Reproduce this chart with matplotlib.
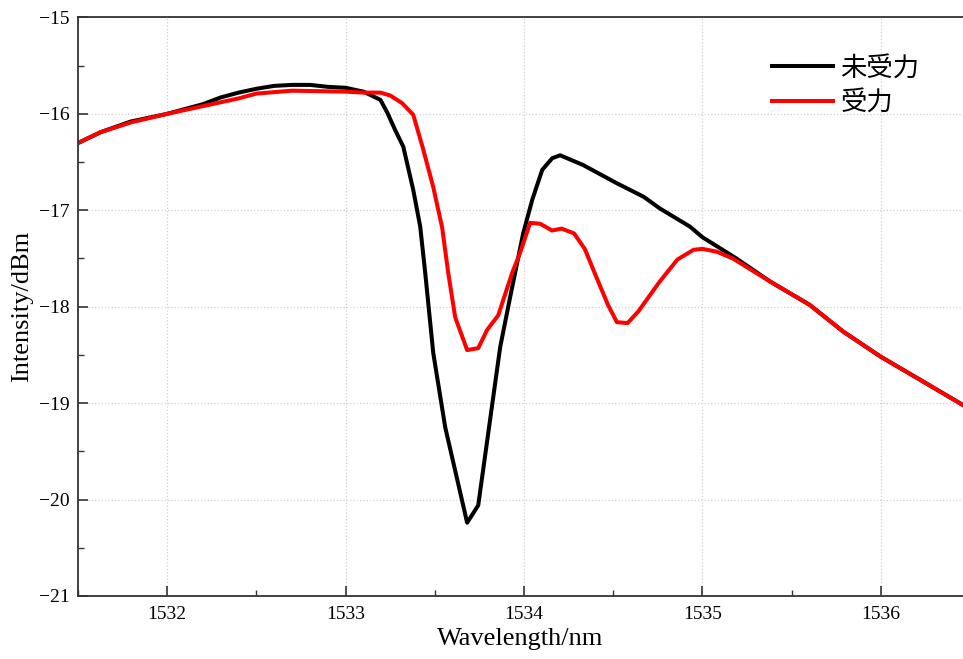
import numpy as np
import matplotlib
matplotlib.use("Agg")
import matplotlib.pyplot as plt
from matplotlib.ticker import MultipleLocator

# 未受力 (no load)
wl_free = [1531.503, 1531.627, 1531.795, 1532.00, 1532.20, 1532.30, 1532.40, 1532.50,
           1532.60, 1532.70, 1532.80, 1532.90, 1533.00, 1533.10, 1533.195, 1533.234,
           1533.278, 1533.323, 1533.379, 1533.418, 1533.446, 1533.491, 1533.558, 1533.681,
           1533.743, 1533.866, 1533.922, 1533.995, 1534.046, 1534.102, 1534.158, 1534.202,
           1534.33, 1534.52, 1534.67, 1534.76, 1534.93, 1535.00, 1535.19, 1535.38,
           1535.60, 1535.79, 1536.00, 1536.24, 1536.46]
p_free = [-16.30, -16.19, -16.08, -16.00, -15.90, -15.83, -15.78, -15.74,
          -15.71, -15.70, -15.70, -15.72, -15.73, -15.77, -15.855, -15.99,
          -16.17, -16.34, -16.79, -17.17, -17.65, -18.48, -19.25, -20.24,
          -20.06, -18.42, -17.90, -17.24, -16.89, -16.58, -16.46, -16.43,
          -16.53, -16.72, -16.86, -16.98, -17.17, -17.28, -17.50, -17.74,
          -17.98, -18.26, -18.52, -18.78, -19.02]

# 受力 (loaded)
wl_load = [1531.503, 1531.627, 1531.795, 1532.00, 1532.20, 1532.40, 1532.50, 1532.70,
           1533.00, 1533.10, 1533.195, 1533.25, 1533.317, 1533.379, 1533.435, 1533.491,
           1533.541, 1533.575, 1533.614, 1533.681, 1533.743, 1533.793, 1533.855, 1533.933,
           1533.978, 1534.034, 1534.09, 1534.157, 1534.21, 1534.28, 1534.34, 1534.40,
           1534.47, 1534.52, 1534.58, 1534.64, 1534.76, 1534.86, 1534.95, 1535.00,
           1535.08, 1535.17, 1535.38, 1535.60, 1535.79, 1536.00, 1536.24, 1536.46]
p_load = [-16.30, -16.19, -16.09, -16.00, -15.92, -15.84, -15.79, -15.76,
          -15.77, -15.78, -15.78, -15.81, -15.89, -16.01, -16.37, -16.76,
          -17.18, -17.65, -18.11, -18.45, -18.43, -18.24, -18.09, -17.65,
          -17.44, -17.13, -17.14, -17.21, -17.19, -17.24, -17.40, -17.67,
          -17.98, -18.16, -18.17, -18.05, -17.74, -17.51, -17.41, -17.40,
          -17.43, -17.50, -17.74, -17.98, -18.26, -18.52, -18.78, -19.02]

serif = ['Liberation Serif', 'DejaVu Serif']
plt.rcParams['font.family'] = serif

fig = plt.figure(figsize=(9.63, 6.59), dpi=100)
ax = fig.add_axes([0.081, 0.0956, 0.919, 0.878])

ax.plot(wl_free, p_free, color='black', linewidth=2.9, label='未受力')
ax.plot(wl_load, p_load, color='#ff0000', linewidth=2.9, label='受力')

ax.set_xlim(1531.5, 1536.46)
ax.set_ylim(-21, -15)
ax.xaxis.set_major_locator(MultipleLocator(1))
ax.xaxis.set_minor_locator(MultipleLocator(0.5))
ax.yaxis.set_major_locator(MultipleLocator(1))
ax.yaxis.set_minor_locator(MultipleLocator(0.5))
ax.tick_params(which='both', direction='in', labelsize=14, color='#333333')
ax.tick_params(which='major', length=7, width=1.2)
ax.tick_params(which='minor', length=4, width=1.0)
ax.tick_params(axis='x', pad=7)
ax.tick_params(axis='y', pad=6)

ax.grid(True, which='major', linestyle=':', color='#d0d0d0', linewidth=0.9)

for side in ['left', 'bottom', 'top']:
    ax.spines[side].set_color('#333333')
    ax.spines[side].set_linewidth(1.3)
ax.spines['right'].set_visible(False)

ax.set_xlabel('Wavelength/nm', fontsize=19, labelpad=4)
ax.set_ylabel('Intensity/dBm', fontsize=19, labelpad=4)

ax.legend(loc='upper left', bbox_to_anchor=(0.784, 0.936), frameon=False,
          prop={'family': ['Noto Sans CJK SC', 'DejaVu Sans'], 'size': 19},
          handlelength=2.3, handletextpad=0.3, labelspacing=0.28,
          borderaxespad=0, borderpad=0)

fig.savefig('out.png', dpi=100)
